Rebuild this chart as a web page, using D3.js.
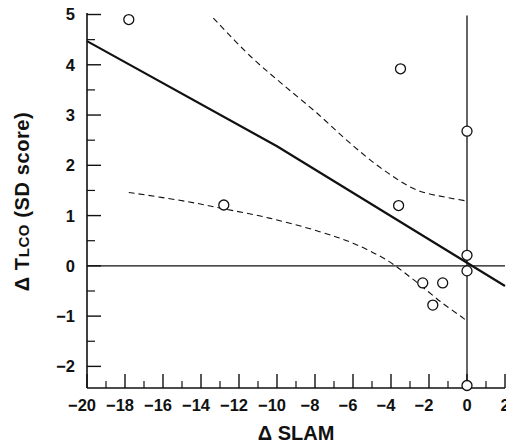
<!DOCTYPE html>
<html>
<head>
<meta charset="utf-8">
<script src="https://cdn.jsdelivr.net/npm/d3@7"></script>
<style>
  body { margin: 0; background: #fff; }
  svg { display: block; }
  .tick-label { font-family: "Liberation Sans", Arial, sans-serif; font-weight: bold; font-size: 16.5px; fill: #111; }
  .title { font-family: "Liberation Sans", Arial, sans-serif; font-weight: bold; font-size: 20px; fill: #111; }
</style>
</head>
<body>
<div id="chart"></div>
<script>
// change in SLAM vs change in TLCO (SD score)
const slamChange = [-17.8, -12.8, -3.5, 0, -3.6, 0, 0, -2.33, -1.28, -1.8, 0];
const tlcoChange = [4.9, 1.21, 3.92, 2.68, 1.2, 0.21, -0.1, -0.34, -0.34, -0.78, -2.38];

// fitted regression line
const fitX = [-20, -10, 2];
const fitY = [4.47, 2.38, -0.4];

// 95% confidence band
const upperX = [-13.35, -11.4, -9.7, -7.9, -6.15, -4.4, -2.65, -0.9, 0];
const upperY = [4.93, 4.17, 3.61, 3.04, 2.44, 1.91, 1.51, 1.35, 1.29];
const lowerX = [-17.8, -14.75, -13.0, -10.4, -7.75, -6.0, -4.25, -2.8, -1.4, -0.2, 0];
const lowerY = [1.46, 1.28, 1.15, 0.95, 0.68, 0.45, 0.12, -0.28, -0.71, -1.04, -1.1];

const xTicks = d3.range(-20, 3, 2);
const xMinor = d3.range(-19, 2, 2);
const yTicks = d3.range(-2, 6, 1);
const yMinor = d3.range(-2.5, 5, 1).filter(d => d > -2.43);

const width = 506, height = 446;
const margin = { top: 13, left: 87, right: 1, bottom: 58 };

const svg = d3.select('#chart').append('svg')
  .attr('width', width)
  .attr('height', height);

const x = d3.scaleLinear().domain([-20, 2]).range([margin.left, width - margin.right]);
const y = d3.scaleLinear().domain([-2.43, 5.03]).range([height - margin.bottom, margin.top]);

const x0 = x.range()[0], x1 = x.range()[1];
const yBottom = y.range()[0], yTop = y.range()[1];

// reference lines at zero
svg.append('line')
  .attr('x1', x0).attr('x2', x1)
  .attr('y1', y(0)).attr('y2', y(0))
  .attr('stroke', '#111').attr('stroke-width', 1.3);
svg.append('line')
  .attr('x1', x(0)).attr('x2', x(0))
  .attr('y1', y(4.98)).attr('y2', yBottom)
  .attr('stroke', '#111').attr('stroke-width', 1.3);

// axes (ticks point inward)
svg.append('line')
  .attr('x1', x0).attr('x2', x0).attr('y1', yTop).attr('y2', yBottom)
  .attr('stroke', '#111').attr('stroke-width', 1.6);
svg.append('line')
  .attr('x1', x0).attr('x2', x1).attr('y1', yBottom).attr('y2', yBottom)
  .attr('stroke', '#111').attr('stroke-width', 1.6);

svg.selectAll('line.ytick')
  .data(yTicks)
  .enter().append('line')
  .attr('class', 'ytick')
  .attr('x1', x0).attr('x2', x0 + 14)
  .attr('y1', d => y(d)).attr('y2', d => y(d))
  .attr('stroke', '#111').attr('stroke-width', 1.4);
svg.selectAll('line.yminor')
  .data(yMinor)
  .enter().append('line')
  .attr('class', 'yminor')
  .attr('x1', x0).attr('x2', x0 + 8)
  .attr('y1', d => y(d)).attr('y2', d => y(d))
  .attr('stroke', '#111').attr('stroke-width', 1.2);
svg.selectAll('text.ylab')
  .data(yTicks)
  .enter().append('text')
  .attr('class', 'tick-label ylab')
  .attr('x', x0 - 12)
  .attr('y', d => y(d))
  .attr('dy', '0.36em')
  .attr('text-anchor', 'end')
  .text(d => d < 0 ? '\u2212' + Math.abs(d) : d);

svg.selectAll('line.xtick')
  .data(xTicks)
  .enter().append('line')
  .attr('class', 'xtick')
  .attr('x1', d => x(d)).attr('x2', d => x(d))
  .attr('y1', yBottom).attr('y2', yBottom - 14)
  .attr('stroke', '#111').attr('stroke-width', 1.4);
svg.selectAll('line.xminor')
  .data(xMinor)
  .enter().append('line')
  .attr('class', 'xminor')
  .attr('x1', d => x(d)).attr('x2', d => x(d))
  .attr('y1', yBottom).attr('y2', yBottom - 7)
  .attr('stroke', '#111').attr('stroke-width', 1.2);
svg.selectAll('text.xlab')
  .data(xTicks)
  .enter().append('text')
  .attr('class', 'tick-label xlab')
  .attr('x', d => x(d) - (d < 0 ? 5 : 0))
  .attr('y', yBottom + 23)
  .attr('text-anchor', 'middle')
  .text(d => d < 0 ? '\u2212' + Math.abs(d) : d);

// confidence band
const curve = d3.line()
  .x(d => x(d[0]))
  .y(d => y(d[1]))
  .curve(d3.curveCatmullRom);

[[upperX, upperY], [lowerX, lowerY]].forEach(([xs, ys]) => {
  svg.append('path')
    .datum(xs.map((v, i) => [v, ys[i]]))
    .attr('d', curve)
    .attr('fill', 'none')
    .attr('stroke', '#111')
    .attr('stroke-width', 1.1)
    .attr('stroke-dasharray', '6,4');
});

// regression line
svg.append('path')
  .datum(fitX.map((v, i) => [v, fitY[i]]))
  .attr('d', d3.line().x(d => x(d[0])).y(d => y(d[1])))
  .attr('stroke', '#111')
  .attr('stroke-width', 2.2)
  .attr('fill', 'none');

// points
svg.selectAll('circle.pt')
  .data(slamChange.map((v, i) => ({ x: v, y: tlcoChange[i] })))
  .enter().append('circle')
  .attr('class', 'pt')
  .attr('cx', d => x(d.x))
  .attr('cy', d => y(d.y))
  .attr('r', 5)
  .attr('fill', '#fff')
  .attr('stroke', '#111')
  .attr('stroke-width', 1.3);

// titles
svg.append('text')
  .attr('class', 'title')
  .attr('x', (x0 + x1) / 2)
  .attr('y', 440)
  .attr('text-anchor', 'middle')
  .text('\u0394 SLAM');

const yTitle = svg.append('text')
  .attr('class', 'title')
  .attr('transform', `translate(29, ${(yTop + yBottom) / 2 + 1}) rotate(-90)`)
  .attr('text-anchor', 'middle')
  .style('letter-spacing', '0.6px');
yTitle.append('tspan').text('\u0394 T');
yTitle.append('tspan').style('font-size', '15px').text('LCO');
yTitle.append('tspan').text(' (SD score)');
</script>
</body>
</html>
